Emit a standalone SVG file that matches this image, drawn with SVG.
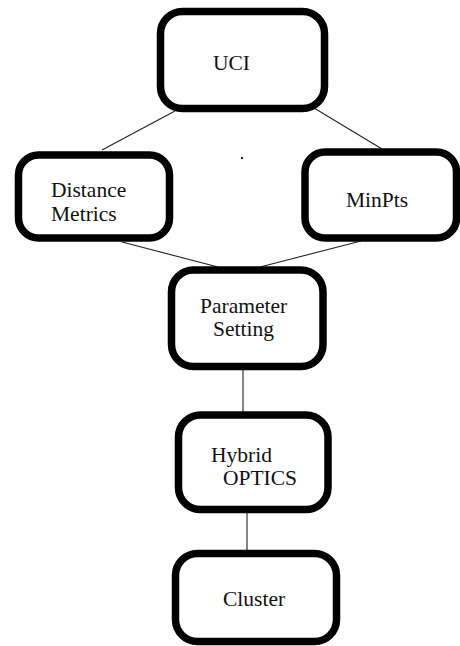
<svg xmlns="http://www.w3.org/2000/svg" width="460" height="646" viewBox="0 0 460 646">
<style>
.box{fill:#fff;stroke:#000;stroke-width:7.5}
.lbl{font-family:'Liberation Serif','DejaVu Serif',serif;font-size:21.5px;fill:#111}
.con{stroke:#222;stroke-width:1.1;fill:none}
</style>
<rect width="460" height="646" fill="#fff"/>
<g id="connectors">
<line class="con" x1="175" y1="111" x2="102" y2="150"/>
<line class="con" x1="314" y1="108" x2="382" y2="149"/>
<line class="con" x1="122" y1="242" x2="218" y2="267"/>
<line class="con" x1="361" y1="241" x2="260" y2="267"/>
<line class="con" x1="243" y1="370" x2="243" y2="412"/>
<line class="con" x1="247" y1="512" x2="247" y2="551"/>
</g>
<g id="uci">
<rect class="box" x="160.5" y="11.5" width="164" height="97" rx="22"/>
<text class="lbl" x="213" y="70" font-size="24">UCI</text>
</g>
<g id="distance">
<rect class="box" x="18.5" y="155" width="151" height="83" rx="20"/>
<text class="lbl" x="51" y="197">Distance</text>
<text class="lbl" x="51" y="221">Metrics</text>
</g>
<g id="minpts">
<rect class="box" x="305" y="152" width="151.5" height="86" rx="20"/>
<text class="lbl" x="346" y="207">MinPts</text>
</g>
<g id="dot"><circle cx="242" cy="158" r="1.2" fill="#222"/></g>
<g id="parameter">
<rect class="box" x="171.5" y="270" width="151.5" height="96.5" rx="22"/>
<text class="lbl" x="200" y="313">Parameter</text>
<text class="lbl" x="213" y="336">Setting</text>
</g>
<g id="hybrid">
<rect class="box" x="178.5" y="415" width="149.5" height="94.5" rx="22"/>
<text class="lbl" x="211" y="462">Hybrid</text>
<text class="lbl" x="223" y="485">OPTICS</text>
</g>
<g id="cluster">
<rect class="box" x="175.5" y="553.5" width="161" height="88" rx="22"/>
<text class="lbl" x="223" y="606">Cluster</text>
</g>
</svg>
